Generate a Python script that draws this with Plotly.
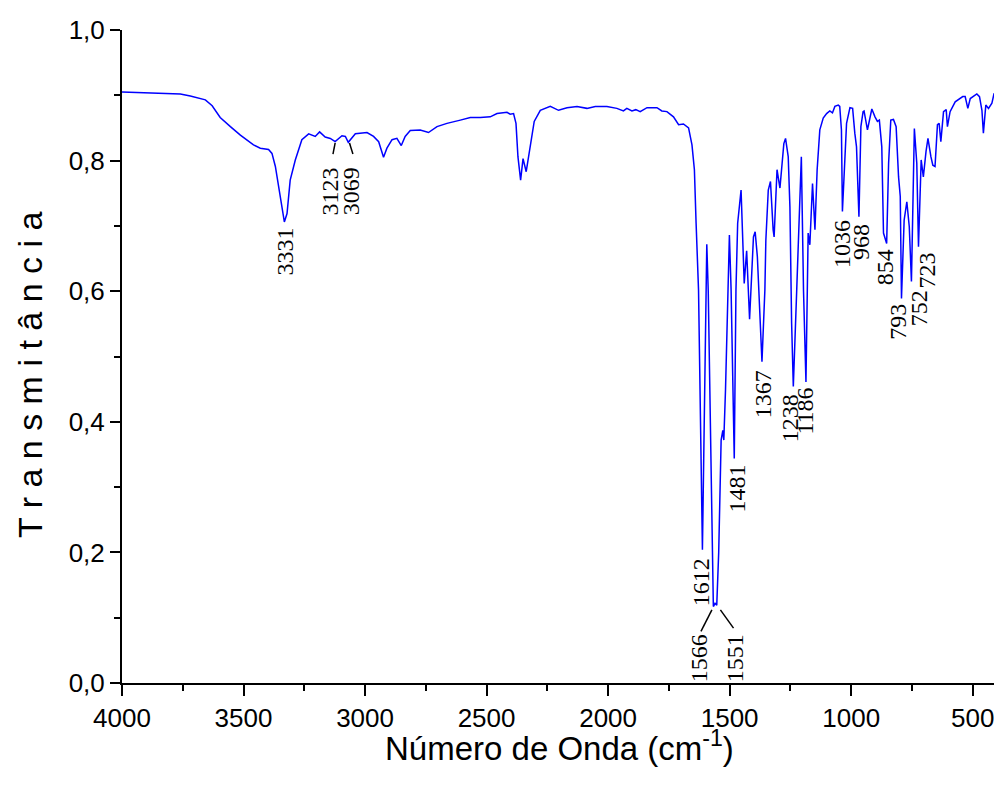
import plotly.graph_objects as go

# Spectrum (wavenumber cm-1, transmittance)
wavenumber = [4000, 3925, 3842, 3760, 3719, 3690, 3657, 3629, 3596, 3554, 3513, 3459, 3431, 3397, 3383,
              3369, 3356, 3342, 3332, 3321, 3308, 3287, 3260, 3232, 3205, 3187, 3164, 3143, 3123, 3095,
              3081, 3069, 3040, 2992, 2965, 2944, 2924, 2910, 2889, 2869, 2851, 2835, 2814, 2773, 2739,
              2704, 2663, 2608, 2567, 2526, 2485, 2457, 2416, 2403, 2389, 2379, 2371, 2360, 2350, 2337,
              2323, 2304, 2279, 2238, 2204, 2169, 2128, 2087, 2053, 2005, 1964, 1937, 1923, 1902, 1886,
              1868, 1840, 1799, 1779, 1758, 1731, 1710, 1690, 1669, 1655, 1645, 1638, 1628, 1612, 1603,
              1597, 1594, 1588, 1580, 1567, 1560, 1553, 1545, 1539, 1535, 1528, 1524, 1517, 1508, 1501,
              1494, 1488, 1481, 1474, 1467, 1453, 1440, 1430, 1418, 1402, 1395, 1386, 1379, 1367, 1355,
              1351, 1341, 1332, 1321, 1317, 1305, 1293, 1277, 1270, 1259, 1252, 1245, 1238, 1224, 1205,
              1196, 1186, 1177, 1170, 1159, 1149, 1140, 1129, 1115, 1101, 1088, 1077, 1067, 1053, 1047,
              1040, 1036, 1026, 1019, 1005, 994, 985, 978, 968, 960, 951, 947, 933, 915, 902, 892, 884,
              874, 867, 854, 846, 837, 826, 815, 805, 798, 793, 782, 771, 761, 752, 746, 740, 730, 723,
              712, 703, 692, 684, 672, 664, 655, 645, 638, 631, 620, 609, 604, 593, 572, 559, 541, 531,
              520, 510, 497, 483, 472, 462, 456, 446, 435, 421, 412, 401]
transmittance = [0.905, 0.904, 0.903, 0.902, 0.899, 0.896, 0.893, 0.884, 0.866, 0.852, 0.839, 0.824, 0.819, 0.817, 0.811,
                 0.791, 0.760, 0.724, 0.706, 0.719, 0.770, 0.801, 0.832, 0.841, 0.837, 0.844, 0.836, 0.834, 0.829, 0.838,
                 0.837, 0.828, 0.841, 0.843, 0.837, 0.829, 0.805, 0.819, 0.832, 0.834, 0.823, 0.837, 0.846, 0.847, 0.843,
                 0.852, 0.857, 0.862, 0.866, 0.866, 0.867, 0.872, 0.874, 0.871, 0.872, 0.857, 0.806, 0.770, 0.803, 0.783,
                 0.816, 0.860, 0.877, 0.883, 0.877, 0.881, 0.883, 0.880, 0.883, 0.883, 0.880, 0.876, 0.880, 0.876, 0.878,
                 0.875, 0.881, 0.881, 0.876, 0.875, 0.867, 0.855, 0.856, 0.850, 0.824, 0.786, 0.704, 0.602, 0.204, 0.450,
                 0.600, 0.672, 0.600, 0.400, 0.117, 0.122, 0.119, 0.200, 0.296, 0.372, 0.387, 0.372, 0.449, 0.602, 0.686,
                 0.602, 0.449, 0.344, 0.602, 0.704, 0.755, 0.612, 0.662, 0.557, 0.683, 0.691, 0.653, 0.602, 0.492, 0.602,
                 0.678, 0.755, 0.768, 0.694, 0.683, 0.786, 0.758, 0.826, 0.834, 0.806, 0.729, 0.551, 0.454, 0.602, 0.806,
                 0.600, 0.461, 0.689, 0.671, 0.765, 0.694, 0.786, 0.847, 0.865, 0.872, 0.876, 0.873, 0.883, 0.885, 0.883,
                 0.847, 0.722, 0.806, 0.857, 0.881, 0.880, 0.842, 0.821, 0.714, 0.852, 0.875, 0.876, 0.847, 0.879, 0.867, 0.860, 0.862,
                 0.821, 0.689, 0.673, 0.796, 0.862, 0.863, 0.852, 0.775, 0.745, 0.589, 0.709, 0.737, 0.699, 0.615, 0.750, 0.849, 0.796, 0.668,
                 0.801, 0.775, 0.814, 0.834, 0.806, 0.793, 0.791, 0.855, 0.857, 0.829, 0.875, 0.878, 0.852, 0.875, 0.890, 0.893, 0.898, 0.898,
                 0.880, 0.895, 0.899, 0.902, 0.898, 0.877, 0.842, 0.885, 0.880, 0.888, 0.903, 0.893]

# Peak labels: text, label x (wavenumber), label top (transmittance)
peak_text = ["3331", "3123", "3069", "1612", "1566", "1551", "1481", "1367", "1238", "1186",
             "1036", "968", "854", "793", "752", "723"]
peak_x = [3328, 3143, 3057, 1618, 1628, 1477, 1469, 1363, 1254, 1189, 1038, 959, 863, 805, 720, 686]
peak_y = [0.701, 0.793, 0.793, 0.194, 0.077, 0.078, 0.338, 0.482, 0.446, 0.455, 0.712, 0.706, 0.668, 0.583, 0.605, 0.663]

# Leader lines (x0, y0, x1, y1)
leader_lines = [(3123, 0.827, 3132, 0.810), (3064, 0.827, 3050, 0.810),
                (1573, 0.112, 1618, 0.079), (1538, 0.112, 1484, 0.084)]

x_tickvals = [4000, 3500, 3000, 2500, 2000, 1500, 1000, 500]
x_ticktext = ["4000", "3500", "3000", "2500", "2000", "1500", "1000", "500"]
x_minor = [3750, 3250, 2750, 2250, 1750, 1250, 750]
y_tickvals = [0.0, 0.2, 0.4, 0.6, 0.8, 1.0]
y_ticktext = ["0,0", "0,2", "0,4", "0,6", "0,8", "1,0"]
y_minor = [0.1, 0.3, 0.5, 0.7, 0.9]

fig = go.Figure()
fig.add_trace(go.Scatter(x=wavenumber, y=transmittance, mode="lines",
                         line=dict(color="#0000ff", width=1.5), showlegend=False))

for t, px, py in zip(peak_text, peak_x, peak_y):
    fig.add_annotation(x=px, y=py, text=t, textangle=-90, showarrow=False,
                       xanchor="center", yanchor="top",
                       font=dict(family="Liberation Serif", size=24, color="black"))

for x0, y0, x1, y1 in leader_lines:
    fig.add_shape(type="line", x0=x0, y0=y0, x1=x1, y1=y1, xref="x", yref="y",
                  line=dict(color="black", width=1.5))

axis_font = dict(family="Liberation Sans", size=26, color="black")
fig.add_annotation(text="Número de Onda (cm<sup>-1</sup>)", xref="paper", yref="paper",
                   x=0.5, y=-0.097, xanchor="center", yanchor="middle", showarrow=False,
                   font=dict(family="Liberation Sans", size=33, color="black"))
fig.add_annotation(text="T r a n s m i t â n c i a", xref="paper", yref="paper",
                   x=-0.105, y=0.472, xanchor="center", yanchor="middle", showarrow=False, textangle=-90,
                   font=dict(family="Liberation Sans", size=34, color="black"))

fig.update_layout(
    width=1002, height=794,
    margin=dict(l=114, r=13, t=22, b=119),
    paper_bgcolor="white", plot_bgcolor="white",
    xaxis=dict(range=[4000, 400], showgrid=False, zeroline=False, automargin=False,
               showline=True, linecolor="black", linewidth=2,
               ticks="outside", ticklen=11, tickwidth=2, tickcolor="black",
               tickmode="array", tickvals=x_tickvals, ticktext=x_ticktext,
               tickfont=axis_font,
               minor=dict(ticks="outside", ticklen=6, tickwidth=2, tickcolor="black",
                          tickvals=x_minor, showgrid=False)),
    yaxis=dict(range=[0, 1.0], showgrid=False, zeroline=False, automargin=False,
               showline=True, linecolor="black", linewidth=2,
               ticks="outside", ticklen=10, tickwidth=2, tickcolor="black",
               tickmode="array", tickvals=y_tickvals, ticktext=y_ticktext,
               tickfont=axis_font,
               minor=dict(ticks="outside", ticklen=6, tickwidth=2, tickcolor="black",
                          tickvals=y_minor, showgrid=False)),
)

fig.write_html("out.html")
